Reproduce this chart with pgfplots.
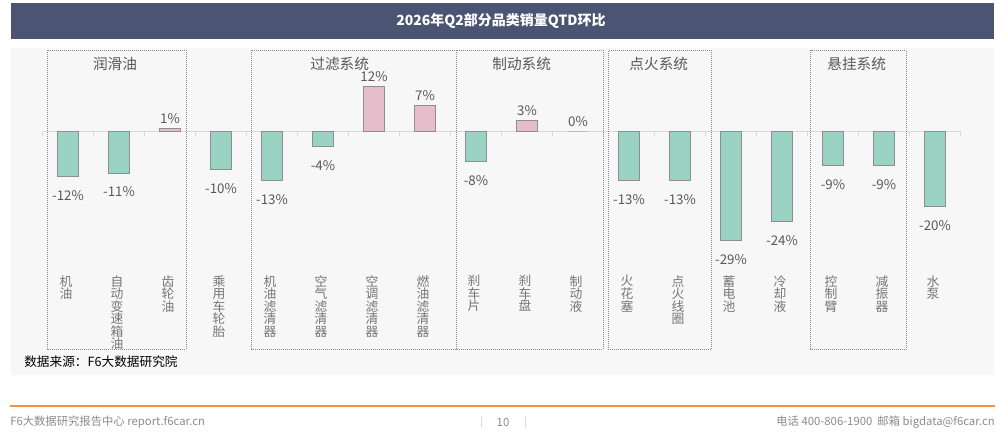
\documentclass[border=0pt]{standalone}
\usepackage{fontspec}
\setmainfont{Noto Sans CJK SC}
\usepackage{pgfplots}
\pgfplotsset{compat=1.18}
\definecolor{titlebar}{HTML}{4B5472}
\definecolor{panel}{HTML}{F7F7F7}
\definecolor{negc}{HTML}{9AD3C2}
\definecolor{posc}{HTML}{E5BDCB}
\definecolor{barline}{HTML}{8E8E8E}
\definecolor{lbl}{HTML}{595959}
\definecolor{catlbl}{HTML}{767676}
\definecolor{orangeline}{HTML}{F7913D}
\definecolor{foot}{HTML}{8C8C8C}
\definecolor{zeroline}{HTML}{D9D9D9}
\definecolor{boxc}{HTML}{8A8A8A}
\begin{document}
\begin{tikzpicture}
\begin{scope}[x=0.75pt,y=0.75pt]
\fill[white] (0,0) rectangle (1000,439);
\fill[panel] (10.7,439-375) rectangle (994,439-48.3);
\fill[titlebar] (10.7,439-38.7) rectangle (994,439-2.7);
\node[text=white, font=\fontsize{10.5}{12}\selectfont\bfseries] at (501,439-20.5) {2026年Q2部分品类销量QTD环比};
\end{scope}

\begin{axis}[
  at={(31.875pt,145.875pt)}, anchor=south west,
  scale only axis, width=688.5pt, height=140.625pt,
  xmin=-0.5, xmax=17.5, ymin=-30, ymax=20,
  axis x line=middle, axis y line=none,
  axis line style={draw=zeroline, line width=0.75pt, -},
  xtick={0,...,17},
  xticklabels={{机\\油},{自\\动\\变\\速\\箱\\油},{齿\\轮\\油},{乘\\用\\车\\轮\\胎},{机\\油\\滤\\清\\器},{空\\气\\滤\\清\\器},{空\\调\\滤\\清\\器},{燃\\油\\滤\\清\\器},{刹\\车\\片},{刹\\车\\盘},{制\\动\\液},{火\\花\\塞},{点\\火\\线\\圈},{蓄\\电\\池},{冷\\却\\液},{控\\制\\臂},{减\\振\\器},{水\\泵}},
  major tick length=0pt,
  extra x ticks={-0.5,0.5,...,17.5},
  extra x tick labels={},
  extra x tick style={major tick length=3pt, tick align=outside, tick style={draw=zeroline, line width=0.75pt}},
  xticklabel style={font=\fontsize{9.6}{9.4}\selectfont, text=catlbl, align=center, anchor=north, yshift=-104pt, xshift=-1.5pt},
  ybar, bar width=15.75pt,
  clip=false,
  nodes near coords={\pgfmathprintnumber[assume math mode=true,fixed,precision=0]{\pgfplotspointmeta}\%},
  nodes near coords align={vertical},
  every node near coord/.append style={font=\fontsize{10}{12}\selectfont, text=lbl},
]
\addplot[fill=negc, draw=barline, line width=0.75pt, bar shift=0pt,
  every node near coord/.append style={yshift=-6.5pt}]
  coordinates {(0,-12) (1,-11) (3,-10) (4,-13) (5,-4) (8,-8) (11,-13) (12,-13) (13,-29) (14,-24) (15,-9) (16,-9) (17,-20)};
\addplot[fill=posc, draw=barline, line width=0.75pt, bar shift=0pt]
  coordinates {(2,1) (6,12) (7,7) (9,3) (10,0)};
\end{axis}

\begin{scope}[x=0.75pt,y=0.75pt]
\begin{scope}[draw=boxc, line width=0.75pt, dash pattern=on 0.75pt off 0.75pt]
\draw (47.3,439-50.3) rectangle (186,439-349.3);
\draw (251.7,439-50.3) rectangle (456.3,439-349.3);
\draw (456.3,439-50.3) rectangle (603.3,439-349.3);
\draw (608.3,439-51) rectangle (711.7,439-349.3);
\draw (810.7,439-50.3) rectangle (906,439-349.3);
\end{scope}
\begin{scope}[every node/.style={text=lbl, font=\fontsize{11}{13}\selectfont, inner sep=0}]
\node at (115,439-64) {润滑油};
\node at (339.7,439-64) {过滤系统};
\node at (521.7,439-64) {制动系统};
\node at (658.8,439-64) {点火系统};
\node at (856.7,439-64) {悬挂系统};
\end{scope}
\node[anchor=west, inner sep=0, font=\fontsize{9.5}{11}\selectfont] at (24,439-361.7) {数据来源：F6大数据研究院};
\draw[orangeline, line width=1.5pt] (10,439-406.5) -- (995,439-406.5);
\begin{scope}[every node/.style={text=foot, inner sep=0, font=\fontsize{8.5}{10}\selectfont}]
\node[anchor=west] at (10,439-422) {F6大数据研究报告中心 report.f6car.cn};
\node[anchor=east] at (995,439-422) {电话 400-806-1900\ \ 邮箱 bigdata@f6car.cn};
\node at (503,439-422) {10};
\end{scope}
\draw[zeroline, line width=0.75pt] (481,439-417) -- (481,439-427);
\draw[zeroline, line width=0.75pt] (525,439-417) -- (525,439-427);
\end{scope}
\end{tikzpicture}
\end{document}
